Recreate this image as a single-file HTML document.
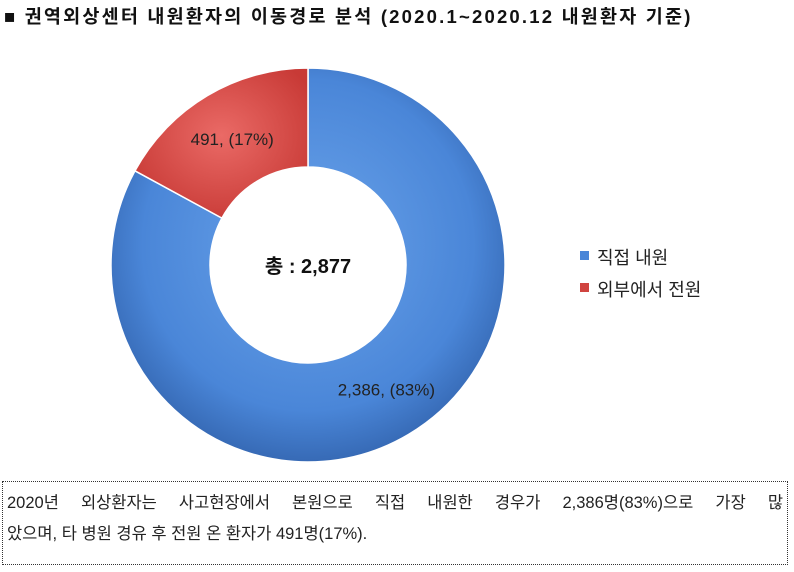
<!DOCTYPE html>
<html><head><meta charset="utf-8">
<style>
body{margin:0;width:794px;height:572px;background:#fff;overflow:hidden;font-family:"Liberation Sans","Noto Sans CJK KR",sans-serif;position:relative}
#title{position:absolute;left:4px;top:3px;font-size:18.5px;font-weight:bold;color:#111;white-space:nowrap;letter-spacing:2.2px}
#note{position:absolute;left:2px;top:481px;width:786px;height:84px;border:1px dotted #333;font-size:16.5px;line-height:31px;color:#222;padding:6px 4px 0 4px;box-sizing:border-box}
.l1{text-align:justify;text-align-last:justify;white-space:nowrap;height:31px}
</style></head><body>
<div id="title">■ 권역외상센터 내원환자의 이동경로 분석 (2020.1~2020.12 내원환자 기준)</div>
<svg id="chart" width="794" height="480" style="position:absolute;left:0;top:0">
<defs>
<radialGradient id="gb" cx="50%" cy="45%" r="60%"><stop offset="0" stop-color="#6aa3ea"/><stop offset="0.7" stop-color="#4a86d8"/><stop offset="1" stop-color="#2f5fa8"/></radialGradient>
<radialGradient id="gr" cx="50%" cy="45%" r="60%"><stop offset="0" stop-color="#ea6a66"/><stop offset="1" stop-color="#c83a36"/></radialGradient>
</defs>
<g id="slices"></g>
<text x="308" y="273" text-anchor="middle" font-size="20" font-weight="bold" fill="#111">총 : 2,877</text>
<rect x="580" y="251" width="9" height="9" fill="#4a86d8"/>
<text x="597" y="264" font-size="18" fill="#222">직접 내원</text>
<rect x="580" y="283" width="9" height="9" fill="#d04440"/>
<text x="597" y="296" font-size="18" fill="#222">외부에서 전원</text>
</svg>
<div id="note"><div class="l1">2020년 외상환자는 사고현장에서 본원으로 직접 내원한 경우가 2,386명(83%)으로 가장 많</div><div>았으며, 타 병원 경유 후 전원 온 환자가 491명(17%).</div></div>
<script>
const categories=["직접 내원","외부에서 전원"];
const values=[2386,491];
const valueLabels=["2,386, (83%)","491, (17%)"];
const cx=308,cy=265,R=197,r=98;
const fills=["url(#gb)","url(#gr)"];
const g=document.getElementById('slices');
const total=values.reduce((a,b)=>a+b,0);
let start=0;
function pt(a,rad){return [cx+rad*Math.sin(a),cy-rad*Math.cos(a)];}
values.forEach((v,i)=>{
  const a0=start/total*2*Math.PI, a1=(start+v)/total*2*Math.PI;
  const large=(a1-a0)>Math.PI?1:0;
  const [x0,y0]=pt(a0,R),[x1,y1]=pt(a1,R),[x2,y2]=pt(a1,r),[x3,y3]=pt(a0,r);
  const p=document.createElementNS('http://www.w3.org/2000/svg','path');
  p.setAttribute('d',`M${x0},${y0}A${R},${R} 0 ${large} 1 ${x1},${y1}L${x2},${y2}A${r},${r} 0 ${large} 0 ${x3},${y3}Z`);
  p.setAttribute('fill',fills[i]);p.setAttribute('stroke','#fff');p.setAttribute('stroke-width','1.5');
  
  
  g.appendChild(p);
  const [lx,ly]=pt(a0+(a1-a0)*0.495,147);
  const t=document.createElementNS('http://www.w3.org/2000/svg','text');
  t.setAttribute('x',lx);t.setAttribute('y',ly+6);t.setAttribute('text-anchor','middle');
  t.setAttribute('font-size','17');t.setAttribute('fill','#222');
  t.textContent=valueLabels[i];
  
  
  g.appendChild(t);
  start+=v;
});
</script>
</body></html>
